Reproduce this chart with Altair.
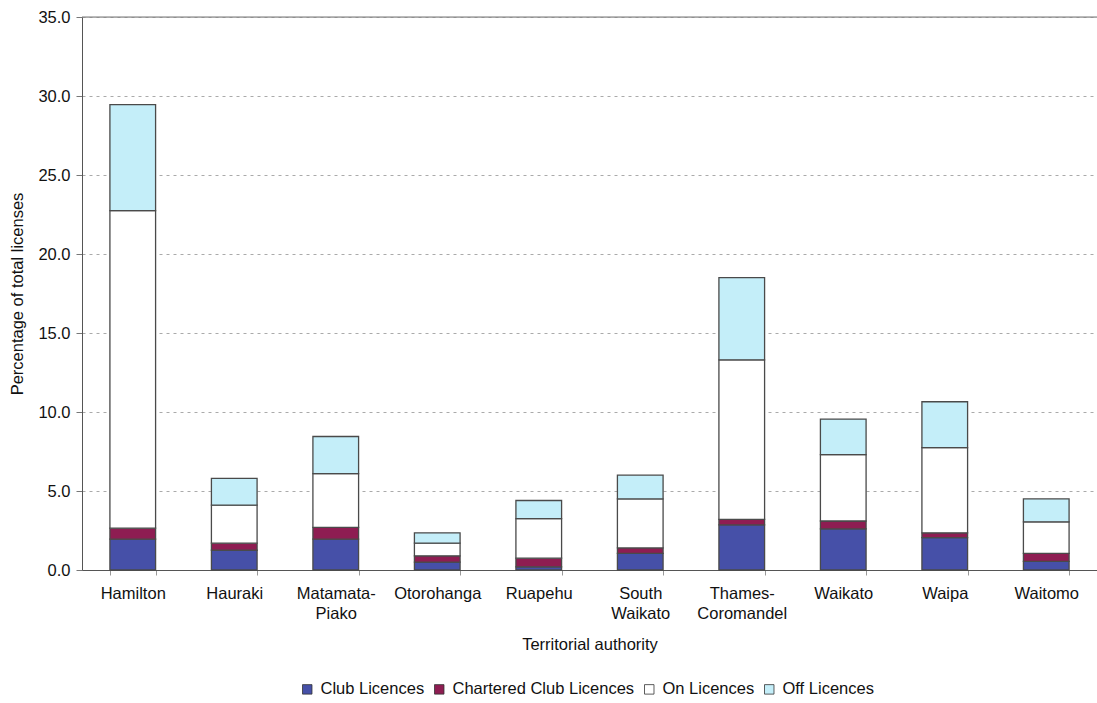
import altair as alt
import pandas as pd

authorities = ["Hamilton", "Hauraki", "Matamata-Piako", "Otorohanga", "Ruapehu",
               "South Waikato", "Thames-Coromandel", "Waikato", "Waipa", "Waitomo"]
series = ["Club Licences", "Chartered Club Licences", "On Licences", "Off Licences"]
club = [1.95, 1.25, 1.95, 0.50, 0.20, 1.05, 2.85, 2.60, 2.05, 0.55]
chartered = [0.70, 0.45, 0.75, 0.40, 0.55, 0.35, 0.35, 0.50, 0.30, 0.50]
on_lic = [20.10, 2.40, 3.40, 0.80, 2.50, 3.10, 10.10, 4.20, 5.40, 2.00]
off_lic = [6.70, 1.70, 2.35, 0.65, 1.15, 1.50, 5.20, 2.25, 2.90, 1.45]
colors = ["#4650a8", "#8e1d52", "#ffffff", "#c4eef9"]
y_ticks = [0, 5, 10, 15, 20, 25, 30, 35]

rows = []
for i, a in enumerate(authorities):
    for k, (s, vals) in enumerate(zip(series, [club, chartered, on_lic, off_lic])):
        rows.append({"authority": a, "series": s, "value": vals[i], "order": k})
df = pd.DataFrame(rows)

FONT = "Liberation Sans"
FS = 16.5

label_expr = ("datum.label == 'Matamata-Piako' ? ['Matamata-', 'Piako'] : "
              "datum.label == 'South Waikato' ? ['South', 'Waikato'] : "
              "datum.label == 'Thames-Coromandel' ? ['Thames-', 'Coromandel'] : datum.label")

bars = alt.Chart(df).mark_bar(stroke="#4a4a4a", strokeWidth=1.3).encode(
    x=alt.X("authority:N", sort=authorities,
            scale=alt.Scale(paddingInner=0.55, paddingOuter=0.275),
            axis=alt.Axis(title="Territorial authority", labelAngle=0, labelExpr=label_expr,
                          tickBand="extent", tickSize=5, tickColor="#999999",
                          domainColor="#555555", labelPadding=10, labelLineHeight=20,
                          titlePadding=15, labelFontSize=FS, titleFontSize=FS,
                          labelFont=FONT, titleFont=FONT, titleFontWeight="normal",
                          labelColor="#111111", titleColor="#111111")),
    y=alt.Y("value:Q", stack="zero",
            scale=alt.Scale(domain=[0, 35], nice=False),
            axis=alt.Axis(title="Percentage of total licenses", values=y_ticks, format=".1f",
                          grid=True, gridDash=[3, 4], gridColor="#aaaaaa",
                          tickSize=6, tickColor="#777777", domainColor="#555555",
                          labelPadding=6, titlePadding=12, labelFontSize=FS, titleFontSize=FS,
                          labelFont=FONT, titleFont=FONT, titleFontWeight="normal",
                          labelColor="#111111", titleColor="#111111")),
    color=alt.Color("series:N", sort=series,
                    scale=alt.Scale(domain=series, range=colors),
                    legend=alt.Legend(title=None, orient="none", direction="horizontal",
                                      legendX=217, legendY=664, symbolType="square",
                                      symbolSize=90, symbolStrokeColor="#333333",
                                      symbolStrokeWidth=0.8, labelFontSize=FS, labelFont=FONT,
                                      labelColor="#111111", columnPadding=6, labelOffset=5,
                                      labelLimit=400)),
    order=alt.Order("order:Q", sort="ascending"),
)

top = alt.Chart(pd.DataFrame({"y": [35]})).mark_rule(color="#777777", strokeWidth=1).encode(
    y=alt.Y("y:Q"))

chart = alt.layer(bars, top).properties(
    width=1015, height=553,
    autosize=alt.AutoSizeParams(type="none"),
    padding={"left": 82, "top": 17, "right": 0, "bottom": 133},
).configure_view(stroke=None).configure(background="white")

chart.save("out.html", embed_options={"renderer": "svg", "actions": False})
